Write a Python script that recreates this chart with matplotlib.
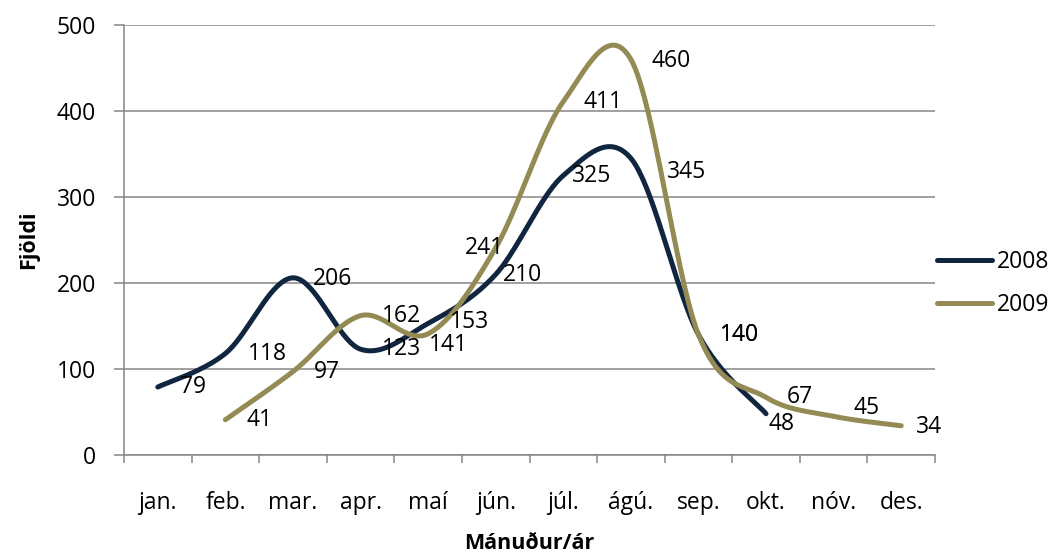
import numpy as np
import matplotlib.pyplot as plt

plt.rcParams['font.family'] = ['Open Sans', 'DejaVu Sans']

manudir = ["jan.", "feb.", "mar.", "apr.", "maí", "jún.", "júl.", "ágú.", "sep.", "okt.", "nóv.", "des."]
ar_2008 = [79, 118, 206, 123, 153, 210, 325, 345, 140, 48, None, None]
ar_2009 = [None, 41, 97, 162, 141, 241, 411, 460, 140, 67, 45, 34]

# label offsets in pixels (dx right, dy down), one per drawn point
lab_2008 = [(35, 0), (42, 0), (40, 1), (41, 0), (41, -1), (27, 1), (28, 0), (56, 14), (41, 0), (15, 10)]
lab_2009 = [(34, 0), (34, 0), (41, 0), (20, 11), (-11, 0), (40, 0), (40, 2), (41, 0), (34, 0), (33, -8), (28, 1)]

c2008 = "#10253F"
c2009 = "#948A54"
grar = "#868686"


def smooth(xs, ys, n=40):
    # catmull-rom like excel "smoothed line"
    p = np.column_stack([xs, ys]).astype(float)
    ext = np.vstack([p[0], p, p[-1]])
    t = np.linspace(0, 1, n)[:, None]
    h00 = 2 * t**3 - 3 * t**2 + 1
    h10 = t**3 - 2 * t**2 + t
    h01 = -2 * t**3 + 3 * t**2
    h11 = t**3 - t**2
    out = []
    for i in range(len(p) - 1):
        p0, p1, p2, p3 = ext[i], ext[i + 1], ext[i + 2], ext[i + 3]
        m1 = (p2 - p0) / 2
        m2 = (p3 - p1) / 2
        out.append(h00 * p1 + h10 * m1 + h01 * p2 + h11 * m2)
    out = np.vstack(out)
    return out[:, 0], out[:, 1]


fig = plt.figure(figsize=(10.5, 5.56), dpi=100)
ax = fig.add_axes([124 / 1050, 1 - 455 / 556, 811 / 1050, 430 / 556])

for vals, offs, col, lab in [(ar_2008, lab_2008, c2008, "2008"), (ar_2009, lab_2009, c2009, "2009")]:
    idx = [i for i, v in enumerate(vals) if v is not None]
    ys = [vals[i] for i in idx]
    sx, sy = smooth(idx, ys)
    ax.plot(sx, sy, color=col, lw=3.6, solid_capstyle="round", label=lab, zorder=3)
    for (i, v), (dx, dy) in zip(zip(idx, ys), offs):
        ax.annotate(str(v), (i, v), xytext=(dx * 0.72, -dy * 0.72), textcoords="offset points",
                    ha="center", va="center", fontsize=16.5, color="black", zorder=4)

ax.set_xlim(-0.5, 11.5)
ax.set_ylim(0, 500)
ax.set_yticks(range(0, 501, 100))
ax.set_xticks(range(12))
ax.set_xticklabels(manudir)
ax.set_xticks(np.arange(-0.5, 12, 1), minor=True)

ax.grid(axis="y", color=grar, lw=1.1)
ax.set_axisbelow(True)
for s in ["top", "right"]:
    ax.spines[s].set_visible(False)
for s in ["left", "bottom"]:
    ax.spines[s].set_color(grar)
    ax.spines[s].set_linewidth(1.1)

ax.tick_params(axis="x", which="major", length=0, pad=26, labelsize=16.5)
ax.tick_params(axis="x", which="minor", length=6, color=grar, width=1.1)
ax.tick_params(axis="y", length=7, color=grar, width=1.1, pad=13, labelsize=16.5)

ax.set_xlabel("Mánuður/ár", fontsize=15.5, fontweight="bold", labelpad=13)
ax.set_ylabel("Fjöldi", fontsize=15.5, fontweight="bold", labelpad=13)

ax.legend(loc="center left", bbox_to_anchor=(1.002, 0.399), frameon=False, fontsize=16.5,
          handlelength=2.4, handletextpad=0.25, labelspacing=0.85, borderaxespad=0, borderpad=0)

fig.savefig("out.png", dpi=100)
